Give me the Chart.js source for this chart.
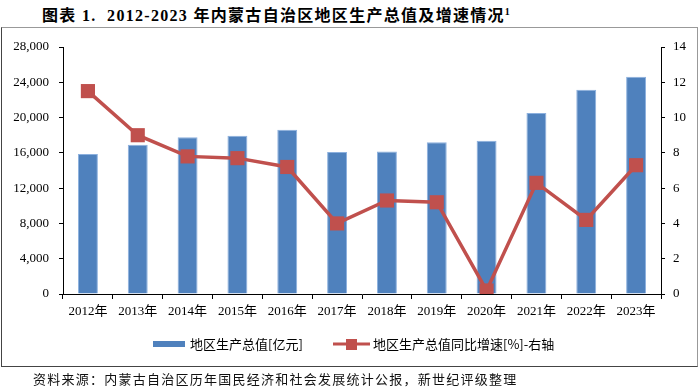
<!DOCTYPE html>
<html>
<head>
<meta charset="utf-8">
<script src="https://cdn.jsdelivr.net/npm/chart.js@4.4.0/dist/chart.umd.min.js"></script>
<style>
  body { margin: 0; width: 700px; height: 390px; background: #fff; position: relative; overflow: hidden; }
  #title { position: absolute; left: 42px; top: 2px; font: bold 16px 'Liberation Serif', 'Noto Sans CJK SC', serif; letter-spacing: 1.3px; white-space: nowrap; }
  #title sup { font-size: 10px; }
  #box { position: absolute; left: 1px; top: 27px; width: 695px; height: 338px; border: 1px solid #999; border-left-color: #444; border-bottom-color: #444; }
  #wrap { position: absolute; left: 0; top: 0; width: 700px; height: 390px; }
  #src { position: absolute; left: 33px; top: 369px; font: 13px 'Noto Sans CJK SC', sans-serif; letter-spacing: 1.25px; white-space: nowrap; color: #111; }
</style>
</head>
<body>
<div id="title">图表 1.&nbsp; 2012-2023 年内蒙古自治区地区生产总值及增速情况<sup>1</sup></div>
<div id="box"></div>
<div id="wrap"><canvas id="chart" width="700" height="390"></canvas></div>
<div id="src">资料来源：内蒙古自治区历年国民经济和社会发展统计公报，新世纪评级整理</div>
<script>
const years = ['2012年', '2013年', '2014年', '2015年', '2016年', '2017年',
               '2018年', '2019年', '2020年', '2021年', '2022年', '2023年'];
// 地区生产总值 (亿元)
const gdp = [15881, 16917, 17770, 17950, 18633, 16096, 16141, 17213, 17360, 20514, 23159, 24627];
// 同比增速 (%)
const growth = [11.5, 9.0, 7.8, 7.7, 7.2, 4.0, 5.3, 5.2, 0.2, 6.3, 4.2, 7.3];

const serif = "'Liberation Serif', 'Noto Sans CJK SC', serif";

// legend drawn under the axis: bar swatch + line with square marker
const bottomLegend = {
  id: 'bottomLegend',
  afterDraw(chart) {
    const ctx = chart.ctx;
    const bar = chart.data.datasets[1];
    const line = chart.data.datasets[0];
    const y = 344;
    ctx.save();
    ctx.font = "13px 'Noto Sans CJK SC', sans-serif";
    ctx.textBaseline = 'middle';
    ctx.fillStyle = bar.backgroundColor;
    ctx.fillRect(153, y - 3, 32, 6);
    ctx.fillStyle = '#000';
    ctx.fillText(bar.label, 190, y);
    ctx.strokeStyle = line.borderColor;
    ctx.lineWidth = 3;
    ctx.beginPath();
    ctx.moveTo(333, y);
    ctx.lineTo(370, y);
    ctx.stroke();
    ctx.fillStyle = line.backgroundColor;
    ctx.fillRect(346, y - 5, 11, 11);
    ctx.fillStyle = '#000';
    ctx.fillText(line.label, 373, y);
    ctx.restore();
  }
};

new Chart(document.getElementById('chart'), {
  data: {
    labels: years,
    datasets: [
      {
        type: 'line',
        label: '地区生产总值同比增速[%]-右轴',
        data: growth,
        yAxisID: 'y1',
        borderColor: '#C0504D',
        backgroundColor: '#C0504D',
        borderWidth: 3.5,
        pointStyle: 'rect',
        pointRadius: 10,
        pointBorderWidth: 0,
        tension: 0,
        order: 0
      },
      {
        type: 'bar',
        label: '地区生产总值[亿元]',
        data: gdp,
        yAxisID: 'y',
        backgroundColor: '#4F81BD',
        borderColor: '#8CB0DE',
        borderWidth: 1,
        barPercentage: 0.4,
        categoryPercentage: 1,
        order: 1
      }
    ]
  },
  options: {
    responsive: false,
    animation: false,
    layout: { padding: { top: 47, bottom: 66, left: 0, right: 0 } },
    plugins: { legend: { display: false }, tooltip: { enabled: false } },
    scales: {
      x: {
        grid: { drawOnChartArea: false, tickLength: 5, color: '#000', offset: true },
        border: { color: '#000' },
        ticks: { color: '#000', font: { size: 13, family: serif }, padding: 5, maxRotation: 0, autoSkip: false },
        afterFit(s) { s.height = 30; }
      },
      y: {
        position: 'left',
        min: 0, max: 28000,
        grid: { drawOnChartArea: false, tickLength: 4, color: '#000' },
        border: { color: '#000' },
        ticks: {
          stepSize: 4000, color: '#000', padding: 10,
          font: { size: 13, family: serif },
          callback: v => v.toLocaleString('en-US')
        },
        afterFit(s) { s.width = 63; }
      },
      y1: {
        position: 'right',
        min: 0, max: 14,
        grid: { drawOnChartArea: false, tickLength: 4, color: '#000' },
        border: { color: '#000' },
        ticks: { stepSize: 2, color: '#000', padding: 8, font: { size: 13, family: serif } },
        afterFit(s) { s.width = 39; }
      }
    }
  },
  plugins: [bottomLegend]
});
</script>
</body>
</html>
